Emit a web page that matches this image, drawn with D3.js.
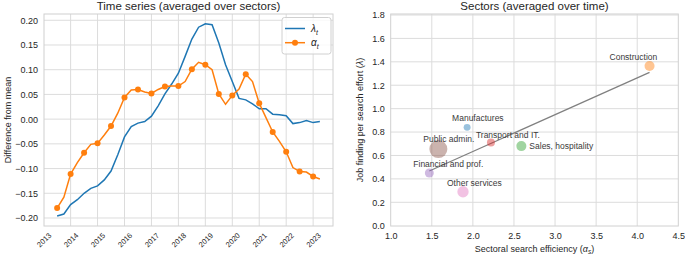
<!DOCTYPE html>
<html>
<head>
<meta charset="utf-8">
<script src="https://cdn.jsdelivr.net/npm/d3@7"></script>
<style>
  body { margin: 0; background: #fff; }
  svg { font-family: "Liberation Sans", Arial, sans-serif; }
  .tick text { fill: #262626; }
</style>
</head>
<body>
<div id="chart"></div>
<script>
// Serie temporal (trimestral)
const quarters = [2013.5, 2013.75, 2014, 2014.25, 2014.5, 2014.75, 2015, 2015.25, 2015.5, 2015.75,
                  2016, 2016.25, 2016.5, 2016.75, 2017, 2017.25, 2017.5, 2017.75, 2018, 2018.25,
                  2018.5, 2018.75, 2019, 2019.25, 2019.5, 2019.75, 2020, 2020.25, 2020.5, 2020.75,
                  2021, 2021.25, 2021.5, 2021.75, 2022, 2022.25, 2022.5, 2022.75, 2023, 2023.25];
const lambdaT = [-0.196, -0.192, -0.173, -0.163, -0.150, -0.140, -0.135, -0.123, -0.105, -0.072,
                 -0.036, -0.015, -0.008, -0.005, 0.006, 0.027, 0.051, 0.071, 0.093, 0.127,
                 0.162, 0.186, 0.193, 0.191, 0.154, 0.110, 0.076, 0.042, 0.039, 0.031,
                 0.021, 0.021, 0.010, 0.009, 0.007, -0.009, -0.007, -0.003, -0.007, -0.005];
const alphaT = [-0.180, -0.158, -0.111, -0.088, -0.068, -0.051, -0.049, -0.032, -0.014, 0.012,
                0.044, 0.059, 0.060, 0.055, 0.052, 0.060, 0.066, 0.067, 0.067, 0.076,
                0.101, 0.115, 0.110, 0.100, 0.051, 0.030, 0.048, 0.061, 0.091, 0.076,
                0.032, 0.003, -0.026, -0.045, -0.066, -0.098, -0.106, -0.107, -0.116, -0.121];
const yearTicks = [2013, 2014, 2015, 2016, 2017, 2018, 2019, 2020, 2021, 2022, 2023];
const seriesTicks = [-0.20, -0.15, -0.10, -0.05, 0.00, 0.05, 0.10, 0.15, 0.20];

// Sectores (promedio en el tiempo)
const sectors = ["Manufactures", "Construction", "Sales, hospitality", "Transport and IT.",
                 "Financial and  prof.", "Public admin.", "Other services"];
const alphaS = [1.93, 4.15, 2.59, 2.22, 1.47, 1.58, 1.88];
const lambdaS = [0.84, 1.365, 0.68, 0.71, 0.45, 0.655, 0.29];
const weights = [12, 25, 25, 16, 20, 81, 32];
const fitLine = [[1.47, 0.467], [4.15, 1.31]];
const effTicks = [1.0, 1.5, 2.0, 2.5, 3.0, 3.5, 4.0, 4.5];
const jobTicks = [0.0, 0.2, 0.4, 0.6, 0.8, 1.0, 1.2, 1.4, 1.6, 1.8];

const tab10 = ["#1f77b4", "#ff7f0e", "#2ca02c", "#d62728", "#9467bd", "#8c564b", "#e377c2"];
// desplazamiento de las etiquetas [dx, dy, anchor]
const labelOffset = [[-15, -9, "start"], [-40, -9, "start"], [8, 0, "start"], [-15, -8, "start"],
                     [-16, -9, "start"], [-15, -10, "start"], [-16, -9, "start"]];

const W = 685, H = 255;
const svg = d3.select("#chart").append("svg").attr("width", W).attr("height", H);

const gridColor = "#dcdcdc";

function styleAxis(g) {
    g.select(".domain").remove();
    g.selectAll(".tick line").remove();
    g.selectAll(".tick text").style("font-size", "9px");
}

// ---------- Panel izquierdo ----------
const L = { x0: 44, x1: 333, y0: 14, y1: 226 };
const x1 = d3.scaleLinear().domain([2013.0125, 2023.7375]).range([L.x0, L.x1]);
const y1 = d3.scaleLinear().domain([-0.2162, 0.2127]).range([L.y1, L.y0]);

const left = svg.append("g");

left.append("g").selectAll("line").data(yearTicks.slice(1)).join("line")
    .attr("x1", d => x1(d)).attr("x2", d => x1(d)).attr("y1", L.y0).attr("y2", L.y1)
    .attr("stroke", gridColor).attr("stroke-width", 1);
left.append("g").selectAll("line").data(seriesTicks).join("line")
    .attr("x1", L.x0).attr("x2", L.x1).attr("y1", d => y1(d)).attr("y2", d => y1(d))
    .attr("stroke", gridColor).attr("stroke-width", 1);
left.append("rect").attr("x", L.x0).attr("y", L.y0)
    .attr("width", L.x1 - L.x0).attr("height", L.y1 - L.y0)
    .attr("fill", "none").attr("stroke", "#d0d0d0").attr("stroke-width", 1);

left.append("g").attr("transform", `translate(${L.x0 - 3},0)`)
    .call(d3.axisLeft(y1).tickValues(seriesTicks).tickFormat(d3.format(".2f")).tickSize(0))
    .call(styleAxis);

// Etiquetas de años rotadas 45 grados, centradas en la marca
left.append("g").attr("transform", `translate(0,${L.y1})`)
    .call(d3.axisBottom(x1).tickValues(yearTicks).tickFormat(d3.format("d")).tickSize(0))
    .call(styleAxis)
    .selectAll(".tick text")
    .style("font-size", "7.5px")
    .attr("text-anchor", "middle")
    .attr("y", 14).attr("dy", "0.35em")
    .attr("transform", "rotate(-45, 0, 14)");

const line = d3.line().x(d => x1(d[0])).y(d => y1(d[1]));
const blue = quarters.map((q, i) => [q, lambdaT[i]]);
const orange = quarters.map((q, i) => [q, alphaT[i]]);

left.append("path").datum(blue).attr("d", line)
    .attr("fill", "none").attr("stroke", tab10[0]).attr("stroke-width", 1.5);
left.append("path").datum(orange).attr("d", line)
    .attr("fill", "none").attr("stroke", tab10[1]).attr("stroke-width", 1.5);
left.append("g").selectAll("circle").data(orange.filter((d, i) => i % 2 === 0)).join("circle")
    .attr("cx", d => x1(d[0])).attr("cy", d => y1(d[1])).attr("r", 3)
    .attr("fill", tab10[1]);

left.append("text")
    .attr("x", (L.x0 + L.x1) / 2).attr("y", 10)
    .attr("text-anchor", "middle").style("font-size", "11.5px").attr("fill", "#262626")
    .text("Time series (averaged over sectors)");

left.append("text")
    .attr("transform", `translate(8,${(L.y0 + L.y1) / 2}) rotate(-90)`)
    .attr("text-anchor", "middle").attr("dy", "0.35em")
    .style("font-size", "9px").attr("fill", "#262626")
    .text("Difference from mean");

// Leyenda
const lg = left.append("g");
lg.append("rect").attr("x", 282).attr("y", 17.5).attr("width", 49).attr("height", 36.5)
    .attr("rx", 2.5).attr("fill", "rgba(255,255,255,0.8)").attr("stroke", "#d0d0d0");
[["λ", tab10[0], false], ["α", tab10[1], true]].forEach(([sym, c, mk], i) => {
    const yy = 28.5 + i * 14.2;
    lg.append("line").attr("x1", 285).attr("x2", 305).attr("y1", yy).attr("y2", yy)
        .attr("stroke", c).attr("stroke-width", 1.5);
    if (mk) lg.append("circle").attr("cx", 295).attr("cy", yy).attr("r", 3).attr("fill", c);
    const t = lg.append("text").attr("x", 311).attr("y", yy).attr("dy", "0.35em")
        .style("font-size", "10px").attr("fill", "#262626");
    t.append("tspan").style("font-style", "italic").text(sym);
    t.append("tspan").attr("dy", "3").style("font-size", "7px").style("font-style", "italic").text("t");
});

// ---------- Panel derecho ----------
const R = { x0: 390.7, x1: 678.3, y0: 14, y1: 226 };
const x2 = d3.scaleLinear().domain([1.0, 4.5]).range([R.x0, R.x1]);
const y2 = d3.scaleLinear().domain([0.0, 1.8]).range([225.7, 15]);
const rScale = d3.scaleSqrt().domain([0, 81]).range([0, 9]);

const right = svg.append("g");

right.append("g").selectAll("line").data(effTicks.slice(1, -1)).join("line")
    .attr("x1", d => x2(d)).attr("x2", d => x2(d)).attr("y1", R.y0).attr("y2", R.y1)
    .attr("stroke", gridColor);
right.append("g").selectAll("line").data(jobTicks.slice(1)).join("line")
    .attr("x1", R.x0).attr("x2", R.x1).attr("y1", d => y2(d)).attr("y2", d => y2(d))
    .attr("stroke", gridColor);
right.append("rect").attr("x", R.x0).attr("y", R.y0)
    .attr("width", R.x1 - R.x0).attr("height", R.y1 - R.y0)
    .attr("fill", "none").attr("stroke", "#d0d0d0");

right.append("g").attr("transform", `translate(${R.x0 - 3},0)`)
    .call(d3.axisLeft(y2).tickValues(jobTicks).tickFormat(d3.format(".1f")).tickSize(0))
    .call(styleAxis);
right.append("g").attr("transform", `translate(0,${R.y1 + 4})`)
    .call(d3.axisBottom(x2).tickValues(effTicks).tickFormat(d3.format(".1f")).tickSize(0))
    .call(styleAxis);

right.append("path").datum(fitLine)
    .attr("d", d3.line().x(d => x2(d[0])).y(d => y2(d[1])))
    .attr("stroke", "#808080").attr("stroke-width", 1.2).attr("fill", "none");

const pts = sectors.map((s, i) => ({ s, a: alphaS[i], l: lambdaS[i], w: weights[i], c: tab10[i], o: labelOffset[i] }));

right.append("g").selectAll("circle").data(pts).join("circle")
    .attr("cx", d => x2(d.a)).attr("cy", d => y2(d.l)).attr("r", d => rScale(d.w))
    .attr("fill", d => d.c).attr("fill-opacity", 0.45);

right.append("g").selectAll("text").data(pts).join("text")
    .attr("x", d => x2(d.a) + d.o[0]).attr("y", d => y2(d.l) + d.o[1])
    .attr("dy", "0.35em").attr("text-anchor", d => d.o[2])
    .style("font-size", "8.5px").attr("fill", "#3a3a3a")
    .text(d => d.s);

right.append("text")
    .attr("x", (R.x0 + R.x1) / 2).attr("y", 10)
    .attr("text-anchor", "middle").style("font-size", "11.5px").attr("fill", "#262626")
    .text("Sectors (averaged over time)");

const xl = right.append("text")
    .attr("x", (R.x0 + R.x1) / 2).attr("y", 249).attr("dy", "0.35em")
    .attr("text-anchor", "middle").style("font-size", "9px").attr("fill", "#262626");
xl.append("tspan").text("Sectoral search efficiency (");
xl.append("tspan").style("font-style", "italic").text("α");
xl.append("tspan").attr("dy", "2").style("font-size", "6.5px").style("font-style", "italic").text("s");
xl.append("tspan").attr("dy", "-2").text(")");

const yl = right.append("text")
    .attr("transform", `translate(360,${(R.y0 + R.y1) / 2}) rotate(-90)`)
    .attr("text-anchor", "middle").attr("dy", "0.35em")
    .style("font-size", "9px").attr("fill", "#262626");
yl.append("tspan").text("Job finding per search effort (");
yl.append("tspan").style("font-style", "italic").text("λ");
yl.append("tspan").text(")");
</script>
</body>
</html>
